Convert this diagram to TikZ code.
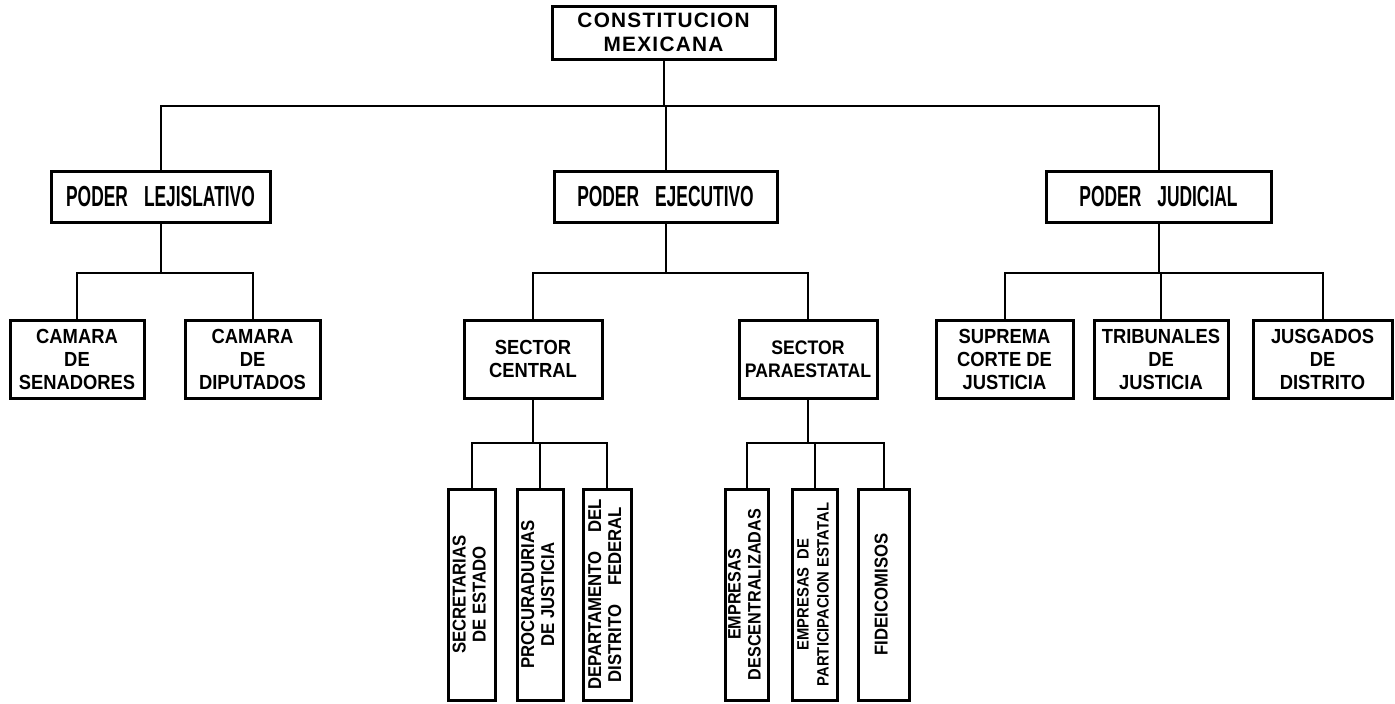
\documentclass[tikz,border=0pt]{standalone}
\usepackage{fontspec}
\usepackage{graphicx}
\setmainfont{Liberation Sans}
\newfontfamily\fconst{Liberation Sans}[LetterSpace=6]
\newfontfamily\fpoder{Liberation Sans}[FakeStretch=0.6]
\newfontfamily\fnarrow{Liberation Sans}[FakeStretch=0.9]
\tikzset{
  box/.style={draw, line width=1.5pt, rectangle, inner sep=0pt, align=center, font=\bfseries},
  lvltop/.style={box, font=\fconst\bfseries\fontsize{10.4}{12}\selectfont},
  lvlpoder/.style={box, minimum height=25.5pt, font=\fpoder\bfseries\fontsize{14.5}{16}\selectfont},
  lvlthree/.style={box, minimum height=39pt, font=\fnarrow\bfseries\fontsize{10.2}{11.5}\selectfont},
  lvlfour/.style={box, minimum height=105.5pt, font=\fnarrow\bfseries\fontsize{9.3}{10}\selectfont},
  conn/.style={line width=1pt},
}
\newcommand{\vtext}[1]{\rotatebox{90}{\begin{tabular}{@{}c@{}}#1\end{tabular}}}
\begin{document}
\begin{tikzpicture}[x=0.5pt,y=-0.5pt]
\useasboundingbox (0,0) rectangle (1395,703);
% top
\node[lvltop, minimum width=111.5pt, minimum height=26.5pt] (top) at (663.5,32.5) {CONSTITUCION\\MEXICANA};
% level 2
\node[lvlpoder, minimum width=109.5pt] (leg) at (160.5,196.5) {PODER\hspace{8pt}LEJISLATIVO};
\node[lvlpoder, minimum width=111.5pt] (eje) at (665.5,196.5) {PODER\hspace{8pt}EJECUTIVO};
\node[lvlpoder, minimum width=112.5pt] (jud) at (1158.5,196.5) {PODER\hspace{8pt}JUDICIAL};
% level 3
\node[lvlthree, minimum width=67pt] (sen) at (77,359) {CAMARA\\DE\\SENADORES};
\node[lvlthree, minimum width=67.5pt] (dip) at (252.5,359) {CAMARA\\DE\\DIPUTADOS};
\node[lvlthree, minimum width=69pt] (scen) at (533,359) {SECTOR\\CENTRAL};
\node[lvlthree, minimum width=69pt, font=\fnarrow\bfseries\fontsize{9.8}{11.5}\selectfont] (spar) at (808,359) {SECTOR\\PARAESTATAL};
\node[lvlthree, minimum width=68.5pt] (sup) at (1004.5,359) {SUPREMA\\CORTE DE\\JUSTICIA};
\node[lvlthree, minimum width=67pt] (trib) at (1161,359) {TRIBUNALES\\DE\\JUSTICIA};
\node[lvlthree, minimum width=69.5pt] (jus) at (1322.5,359) {JUSGADOS\\DE\\DISTRITO};
% level 4
\node[lvlfour, minimum width=23.5pt] (sec) at (471.5,594.5) {\vtext{SECRETARIAS\\DE ESTADO}};
\node[lvlfour, minimum width=23pt] (proc) at (540,594.5) {\vtext{PROCURADURIAS\\DE JUSTICIA}};
\node[lvlfour, minimum width=24pt] (dep) at (607,594.5) {\vtext{DEPARTAMENTO\quad DEL\\DISTRITO\quad FEDERAL}};
\node[lvlfour, minimum width=21.5pt, font=\fnarrow\bfseries\fontsize{9}{10}\selectfont] (empa) at (746.5,594.5) {\vtext{EMPRESAS\\DESCENTRALIZADAS}};
\node[lvlfour, minimum width=22.5pt, font=\fnarrow\bfseries\fontsize{8.2}{10}\selectfont] (empb) at (814.5,594.5) {\vtext{EMPRESAS\ \ DE\\PARTICIPACION ESTATAL}};
\node[lvlfour, minimum width=25.5pt] (fid) at (883.5,594.5) {\vtext{FIDEICOMISOS}};
% buses
\coordinate (busA) at (0,106);
\coordinate (busB) at (0,273);
\coordinate (busC) at (0,443);
% connectors level 1-2
\draw[conn] (top.south) -- (top.south |- busA);
\draw[conn] (leg.north) |- (top.south |- busA) -| (jud.north);
\draw[conn] (eje.north) -- (eje.north |- busA);
% legislativo
\draw[conn] (leg.south) -- (leg.south |- busB);
\draw[conn] (sen.north) |- (leg.south |- busB) -| (dip.north);
% ejecutivo
\draw[conn] (eje.south) -- (eje.south |- busB);
\draw[conn] (scen.north) |- (eje.south |- busB) -| (spar.north);
% judicial
\draw[conn] (jud.south) -- (jud.south |- busB);
\draw[conn] (sup.north) |- (jud.south |- busB) -| (jus.north);
\draw[conn] (trib.north) -- (trib.north |- busB);
% sector central
\draw[conn] (scen.south) -- (scen.south |- busC);
\draw[conn] (sec.north) |- (scen.south |- busC) -| (dep.north);
\draw[conn] (proc.north) -- (proc.north |- busC);
% sector paraestatal
\draw[conn] (spar.south) -- (spar.south |- busC);
\draw[conn] (empa.north) |- (spar.south |- busC) -| (fid.north);
\draw[conn] (empb.north) -- (empb.north |- busC);
\end{tikzpicture}
\end{document}
